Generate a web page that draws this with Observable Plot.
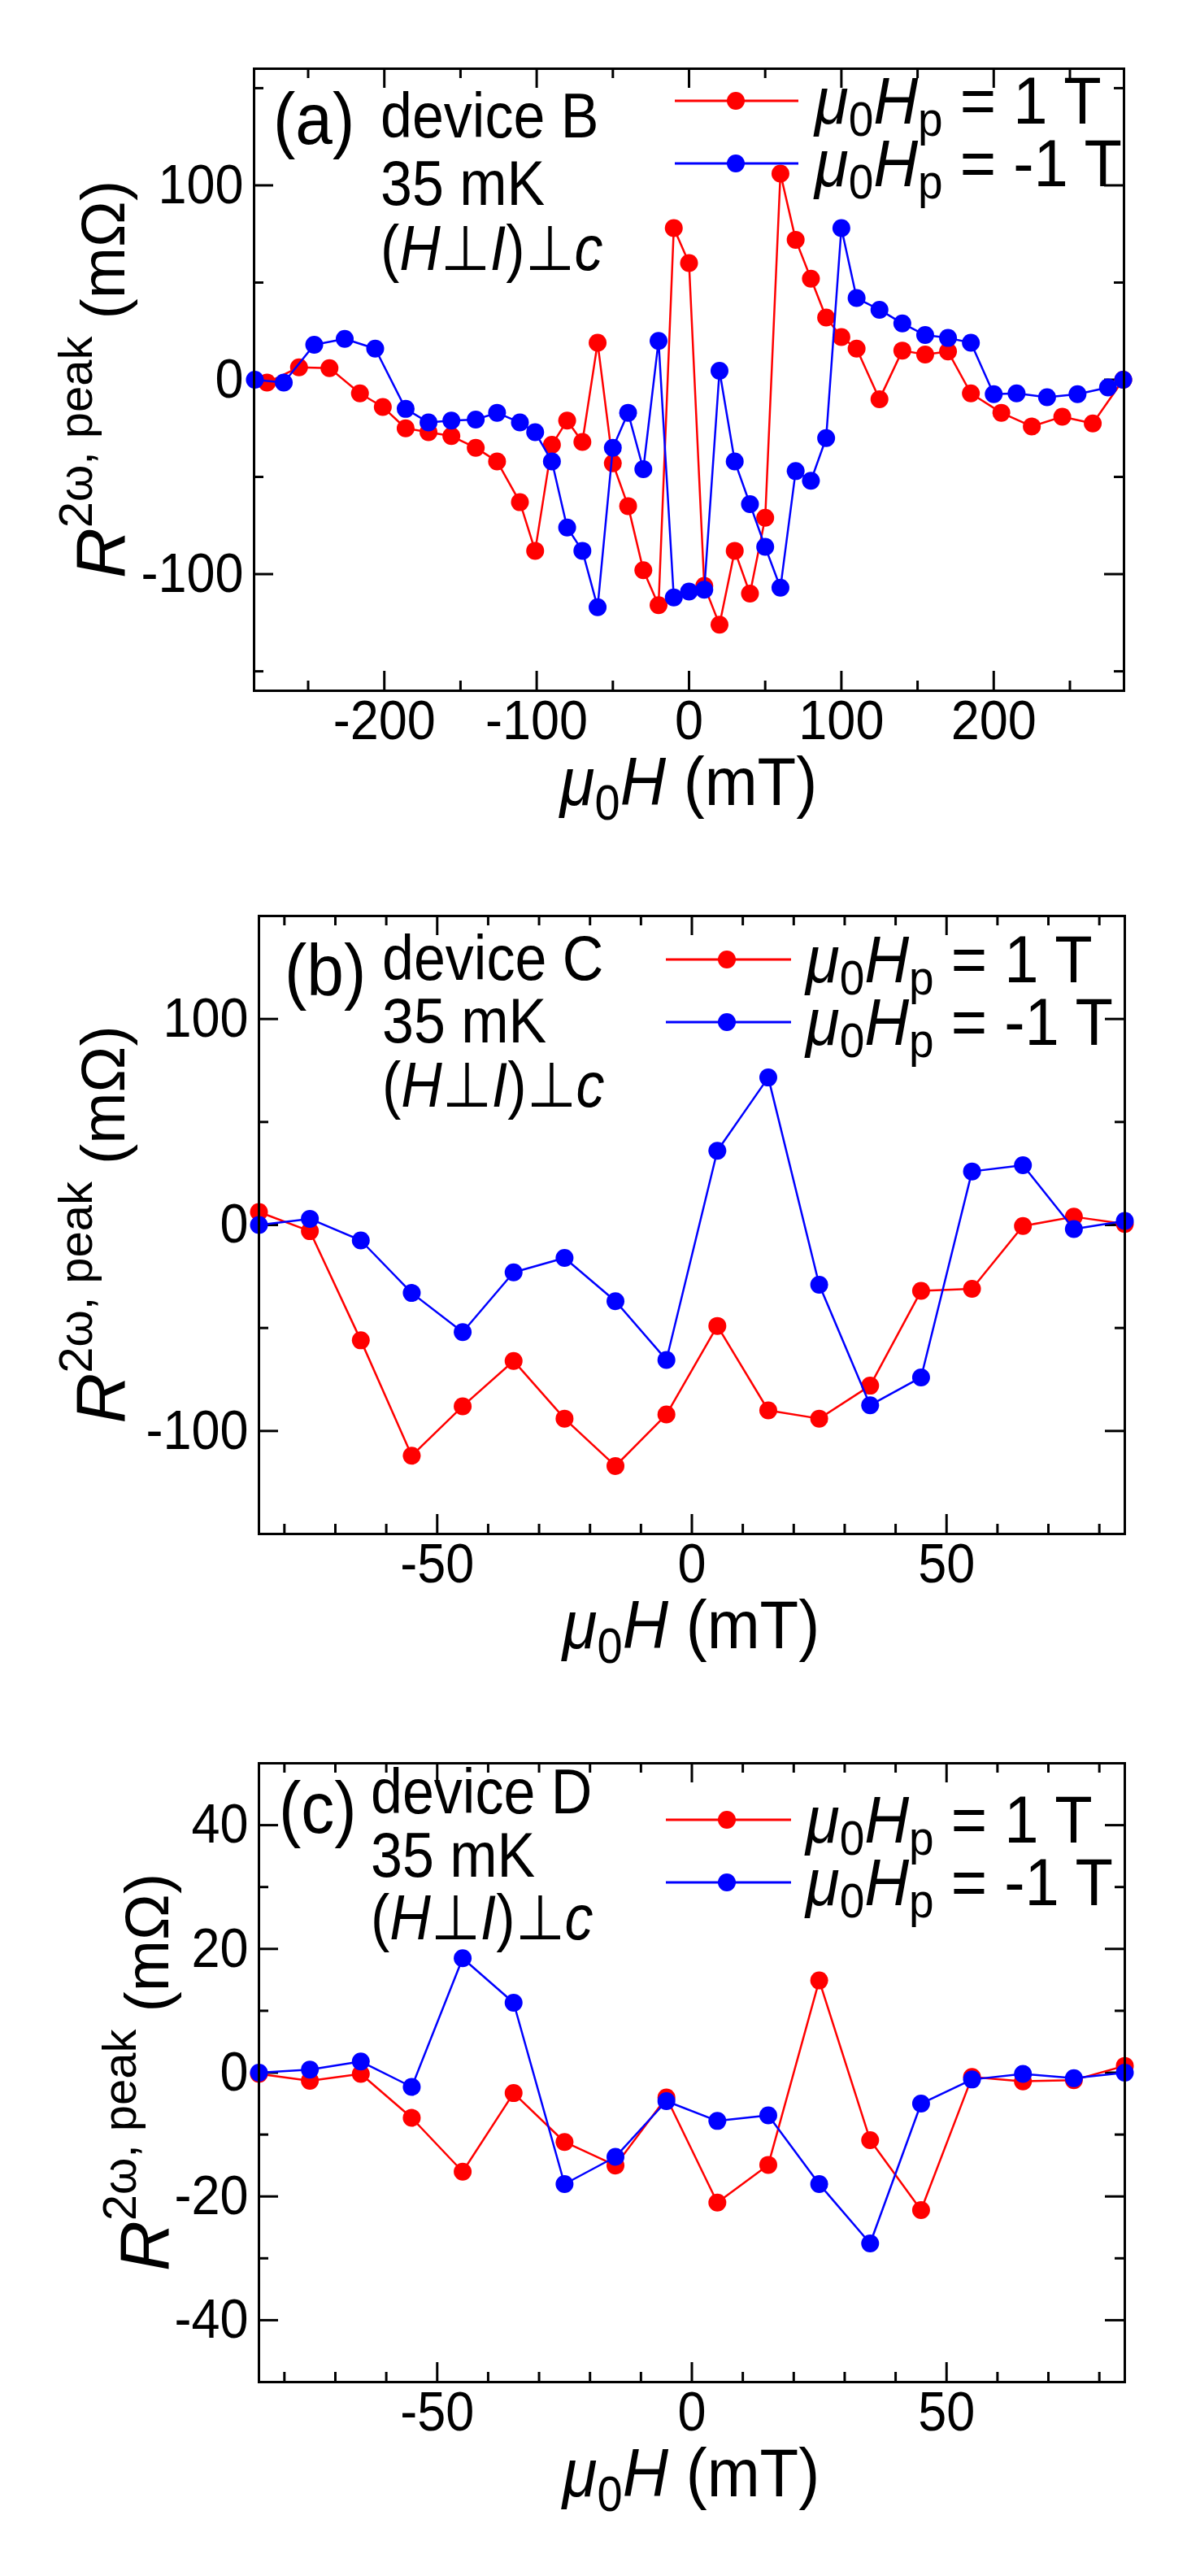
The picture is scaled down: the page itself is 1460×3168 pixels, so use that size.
<!DOCTYPE html>
<html><head><meta charset="utf-8">
<script src="https://cdn.jsdelivr.net/npm/d3@7"></script>
<script src="https://cdn.jsdelivr.net/npm/@observablehq/plot@0.6"></script>
<style>
body{margin:0;background:#fff;}
#wrap{position:relative;width:1460px;height:3168px;background:#fff;overflow:hidden;font-family:"Liberation Sans",Arial,sans-serif;}
#wrap > svg{position:absolute;left:0;}
</style></head><body><div id="wrap"></div>
<script>
// ---------- Panel (a): device B ----------
const aRedH  = [-277,-256,-236,-216,-201,-186,-171,-156,-140,-126,-111,-101,-90,-80,-70,-60,-50,-40,-30,-20,-10,0,10,20,30,40,50,60,70,80,90,100,110,125,140,155,170,185,205,225,245,265,285];
const aRedR  = [-1.5,6.4,6,-7,-14,-25,-27,-29,-35,-42,-63,-88,-33.5,-21,-32,19,-43,-65,-98,-116,78,60,-106,-126,-88,-110,-71,106,72,52,32,22,16,-10,15,13,14.5,-7,-17,-24,-19,-22.5,0];
const aBlueH = [-285,-266,-246,-226,-206,-186,-171,-156,-140,-126,-111,-101,-90,-80,-70,-60,-50,-40,-30,-20,-10,0,10,20,30,40,50,60,70,80,90,100,110,125,140,155,170,185,200,215,235,255,275,285];
const aBlueR = [0,-1.5,18,21,16,-15,-22,-21,-20.5,-17,-22,-27,-42,-76,-88,-117,-35,-17,-46,20,-112,-109,-108,4.6,-42,-64,-86,-107,-47,-52,-30,78,42,36,29,23,21.5,19,-7.4,-7,-9,-7.4,-4,0];
const aXMajor = [-200,-100,0,100,200];
const aXMinor = [-250,-150,-50,50,150,250];
const aYMajor = [-100,0,100];
const aYMinor = [-150,-50,50,150];

// ---------- Panel (b): device C ----------
const bH    = [-85,-75,-65,-55,-45,-35,-25,-15,-5,5,15,25,35,45,55,65,75,85];
const bRed  = [6.3,-3,-56,-112,-88,-66,-94,-117,-92,-49,-90,-94,-78,-32,-31,-0.5,4,0.5];
const bBlue = [0,3,-7.5,-33,-52,-23,-16,-37,-65.5,36,71.6,-29,-87.5,-74,26,29,-2,2];
const bXMajor = [-50,0,50];
const bXMinor = [-80,-70,-60,-40,-30,-20,-10,10,20,30,40,60,70,80];
const bYMajor = [-100,0,100];
const bYMinor = [-50,50];

// ---------- Panel (c): device D ----------
const cH    = [-85,-75,-65,-55,-45,-35,-25,-15,-5,5,15,25,35,45,55,65,75,85];
const cRed  = [-0.2,-1.3,-0.2,-7.3,-16,-3.3,-11.2,-15,-4,-21,-14.9,14.9,-10.9,-22.2,-0.7,-1.4,-1.2,1.1];
const cBlue = [0,0.5,1.8,-2.3,18.5,11.3,-18,-13.6,-4.6,-7.8,-6.9,-18,-27.6,-5,-1.1,-0.2,-0.9,0];
const cXMajor = [-50,0,50];
const cXMinor = [-80,-70,-60,-40,-30,-20,-10,10,20,30,40,60,70,80];
const cYMajor = [-40,-20,0,20,40];
const cYMinor = [-30,-10,10,30];

const seriesLabels = ["1 T","-1 T"];
const panelLetters = ["(a)","(b)","(c)"];
const deviceNames = ["device B","device C","device D"];
const tempLabel = "35 mK";

const RED = "#ff0000", BLUE = "#0000ff";
const W = 1460;
const fmt = d => (d < 0 ? "-" + Math.abs(d) : String(d));

const panels = [
  {top:0, h:1060, mt:84, mb:211, ml:312, mr:78, xDomain:[-285.5,285.5], yDomain:[-160,160],
   redH:aRedH, redR:aRedR, blueH:aBlueH, blueR:aBlueR,
   xMajor:aXMajor, xMinor:aXMinor, yMajor:aYMajor, yMinor:aYMinor},
  {top:1060, h:1050, mt:66, mb:224, ml:318, mr:77, xDomain:[-85,85], yDomain:[-150,150],
   redH:bH, redR:bRed, blueH:bH, blueR:bBlue,
   xMajor:bXMajor, xMinor:bXMinor, yMajor:bYMajor, yMinor:bYMinor},
  {top:2110, h:1058, mt:58, mb:239, ml:318, mr:77, xDomain:[-85,85], yDomain:[-50,50],
   redH:cH, redR:cRed, blueH:cH, blueR:cBlue,
   xMajor:cXMajor, xMinor:cXMinor, yMajor:cYMajor, yMinor:cYMinor}
];

const wrap = document.getElementById("wrap");

panels.forEach(p => {
  const innerW = W - p.ml - p.mr, innerH = p.h - p.mt - p.mb;
  const red = p.redH.map((h, i) => ({h, r: p.redR[i]}));
  const blue = p.blueH.map((h, i) => ({h, r: p.blueR[i]}));
  const tk = {stroke: "black", strokeWidth: 3};
  const chart = Plot.plot({
    width: W, height: p.h,
    marginLeft: p.ml, marginRight: p.mr, marginTop: p.mt, marginBottom: p.mb,
    x: {domain: p.xDomain},
    y: {domain: p.yDomain},
    style: {fontFamily: "Liberation Sans, Arial, sans-serif", fontSize: "63px", background: "transparent", overflow: "visible", color: "black"},
    marks: [
      Plot.tickX(p.xMajor, {x: d => d, insetTop: innerH - 24, ...tk}),
      Plot.tickX(p.xMajor, {x: d => d, insetBottom: innerH - 24, ...tk}),
      Plot.tickX(p.xMinor, {x: d => d, insetTop: innerH - 12, ...tk}),
      Plot.tickX(p.xMinor, {x: d => d, insetBottom: innerH - 12, ...tk}),
      Plot.tickY(p.yMajor, {y: d => d, insetRight: innerW - 24, ...tk}),
      Plot.tickY(p.yMajor, {y: d => d, insetLeft: innerW - 24, ...tk}),
      Plot.tickY(p.yMinor, {y: d => d, insetRight: innerW - 12, ...tk}),
      Plot.tickY(p.yMinor, {y: d => d, insetLeft: innerW - 12, ...tk}),
      Plot.axisX(p.xMajor, {anchor: "bottom", tickSize: 0, tickPadding: 11, tickFormat: fmt, fontSize: 63, label: null}),
      Plot.axisY(p.yMajor, {anchor: "left", tickSize: 0, tickPadding: 13, tickFormat: fmt, fontSize: 63, label: null}),
      Plot.line(red, {x: "h", y: "r", stroke: RED, strokeWidth: 2.5}),
      Plot.dot(red, {x: "h", y: "r", r: 11, fill: RED}),
      Plot.line(blue, {x: "h", y: "r", stroke: BLUE, strokeWidth: 2.5}),
      Plot.dot(blue, {x: "h", y: "r", r: 11, fill: BLUE}),
      Plot.frame({stroke: "black", strokeWidth: 3})
    ]
  });
  // stretch tick-label glyphs slightly in height, like the reference typeface
  chart.querySelectorAll('g[aria-label$="tick label"] text').forEach(t => {
    const tr = t.getAttribute("transform");
    if (tr && tr.includes("translate")) t.setAttribute("transform", tr + " scale(1,1.08)");
  });
  chart.style.position = "absolute";
  chart.style.top = p.top + "px";
  chart.style.left = "0px";
  wrap.appendChild(chart);
});

// ---------- Overlay text: annotations, legends, axis titles ----------
const ann = [
  {letter:{x:336,y:177}, lines:{x:468,y:[169,252,332]}, leg:{x1:830,x2:982,xm:905,y:[124,201],tx:1002}, ytitle:{x:153,y:466.5}, xtitle:{x:847,y:990}},
  {letter:{x:350,y:1224}, lines:{x:470,y:[1205,1282,1361]}, leg:{x1:819,x2:973,xm:894,y:[1180,1257],tx:991}, ytitle:{x:153,y:1506}, xtitle:{x:850,y:2027}},
  {letter:{x:343,y:2254}, lines:{x:456,y:[2230,2308,2385]}, leg:{x1:819,x2:973,xm:894,y:[2238,2315],tx:991}, ytitle:{x:207,y:2548.5}, xtitle:{x:850,y:3070}}
];
const g = (x, y, sy, inner) => `<g transform="translate(${x},${y}) scale(1,${sy})">${inner}</g>`;
const legendRow = (label, dyFirst) =>
  `<tspan x="0" dy="${dyFirst}" font-style="italic">μ</tspan><tspan font-size="55" dy="14">0</tspan><tspan font-style="italic" dy="-14">H</tspan><tspan font-size="55" dy="14">p</tspan><tspan dy="-14"> = ${label}</tspan>`;

let s = `<svg xmlns="http://www.w3.org/2000/svg" width="1460" height="3168" style="position:absolute;top:0;left:0;overflow:visible" font-family="Liberation Sans, Arial, sans-serif" fill="black">`;
ann.forEach((a, i) => {
  s += g(a.letter.x, a.letter.y, 1.08, `<text font-size="82">${panelLetters[i]}</text>`);
  // three annotation lines as one text block
  const sy = 1.1, L = a.lines.y;
  const d1 = ((L[1] - L[0]) / sy).toFixed(2), d2 = ((L[2] - L[1]) / sy).toFixed(2);
  s += g(a.lines.x, L[0], sy,
    `<text font-size="70"><tspan x="0" dy="0">${deviceNames[i]}</tspan><tspan x="0" dy="${d1}">${tempLabel}</tspan><tspan x="0" dy="${d2}">(<tspan font-style="italic">H</tspan>⊥<tspan font-style="italic">I</tspan>)⊥<tspan font-style="italic">c</tspan></tspan></text>`);
  // legend swatches
  [RED, BLUE].forEach((col, k) => {
    const y = a.leg.y[k];
    s += `<line x1="${a.leg.x1}" x2="${a.leg.x2}" y1="${y}" y2="${y}" stroke="${col}" stroke-width="3"/>`;
    s += `<circle cx="${a.leg.xm}" cy="${y}" r="11" fill="${col}"/>`;
  });
  // legend labels as one text block
  const lsy = 1.07, ldy = ((a.leg.y[1] - a.leg.y[0]) / lsy).toFixed(2);
  s += g(a.leg.tx, a.leg.y[0] + 28, lsy,
    `<text font-size="76" style="white-space:pre">${legendRow(seriesLabels[0], 0)}${legendRow(seriesLabels[1], ldy)}</text>`);
  s += `<text transform="translate(${a.ytitle.x},${a.ytitle.y}) rotate(-90)" text-anchor="middle" font-size="76" style="white-space:pre"><tspan font-style="italic" font-size="86">R</tspan><tspan font-size="58" dy="-40">2ω, peak</tspan><tspan dy="40"> (mΩ)</tspan></text>`;
  s += g(a.xtitle.x, a.xtitle.y, 1.08, `<text text-anchor="middle" font-size="78" style="white-space:pre"><tspan font-style="italic">μ</tspan><tspan font-size="56" dy="17">0</tspan><tspan font-style="italic" dy="-17">H</tspan><tspan> (mT)</tspan></text>`);
});
s += `</svg>`;
wrap.insertAdjacentHTML("beforeend", s);
</script>
</body></html>
